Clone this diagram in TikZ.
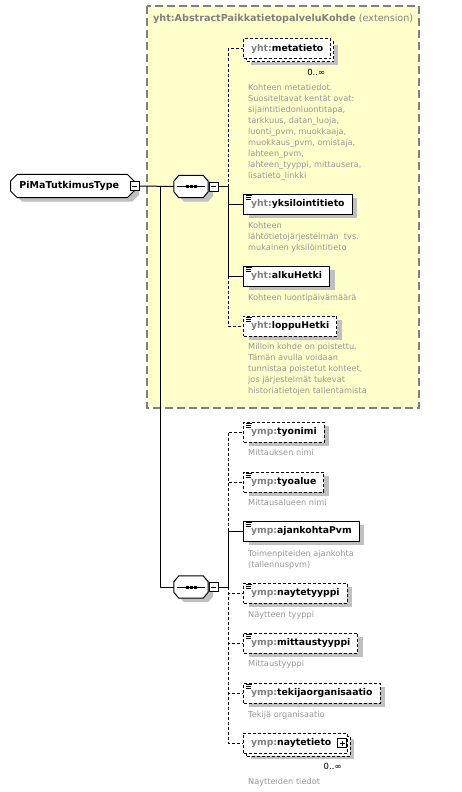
\documentclass[tikz,border=0pt]{standalone}
\usepackage{fontspec}
\setmainfont{DejaVu Sans}
\usetikzlibrary{shapes.misc}
\usetikzlibrary{shadows}
\usetikzlibrary{calc}
\definecolor{extyellow}{RGB}{255,255,204}
\definecolor{framegray}{RGB}{128,128,128}
\definecolor{prefixgray}{RGB}{128,128,128}
\definecolor{docgray}{RGB}{150,150,150}
\definecolor{shadowgray}{RGB}{192,192,192}
% sequence compositor drawn round an empty node
\newcommand{\seqsymbol}[1]{%
	\draw[line width=1pt, fill=white, boxshadow] ([xshift=5pt]#1.north west) -- ([xshift=-5pt]#1.north east) -- ([yshift=-6pt]#1.north east) -- ([yshift=6pt]#1.south east) -- ([xshift=-5pt]#1.south east) -- ([xshift=5pt]#1.south west) -- ([yshift=6pt]#1.south west) -- ([yshift=-6pt]#1.north west) -- cycle;
	\draw[line width=1pt] ([xshift=3pt]#1.west) -- ([xshift=-3pt]#1.east);
	\foreach \dx in {-4,0,4} \fill ([xshift=\dx pt]#1.center) +(-1.5pt,-1.5pt) rectangle +(1.5pt,1.5pt);
}

\begin{document}
\begin{tikzpicture}[x=1pt, y=-1pt,
	elembase/.style={draw, fill=white, anchor=west, minimum height=20pt, inner xsep=7.5pt, inner ysep=0pt, line width=1pt, font=\fontsize{9.3}{11}\bfseries\selectfont},
	boxshadow/.style={drop shadow={shadow xshift=5pt, shadow yshift=-4pt, fill=shadowgray, opacity=1}},
	elem/.style={elembase, boxshadow},
	optelem/.style={elem, dash pattern=on 3pt off 2pt},
	multielem/.style={elembase, dash pattern=on 3pt off 2pt, drop shadow={shadow xshift=7pt, shadow yshift=-6pt, fill=shadowgray, opacity=1}, copy shadow={shadow xshift=3pt, shadow yshift=-3pt, draw, fill=white, line width=1pt, dash pattern=on 3pt off 2pt}},
	simpleicon/.style={path picture={
		\draw[solid, line width=0.7pt] ([xshift=2.5pt, yshift=-1.2pt]path picture bounding box.north west) -- ++(6pt,0pt);
		\draw[solid, line width=0.7pt] ([xshift=2.5pt, yshift=-3.2pt]path picture bounding box.north west) -- ++(4.5pt,0pt);
		\draw[solid, line width=0.7pt] ([xshift=2.5pt, yshift=-5.2pt]path picture bounding box.north west) -- ++(4.5pt,0pt);
	}},
	typebox/.style={chamfered rectangle, chamfered rectangle xsep=3pt, draw, fill=white, anchor=west, minimum height=22pt, inner xsep=6pt, line width=1pt, font=\fontsize{9.5}{11}\bfseries\selectfont, boxshadow},
	seqbox/.style={rectangle, minimum width=34pt, minimum height=22pt, inner sep=0pt},
	btnminus/.style={draw, fill=white, minimum size=9pt, inner sep=0pt, line width=1pt, path picture={
		\draw[solid, line width=1pt] ([xshift=2pt]path picture bounding box.west) -- ([xshift=-2pt]path picture bounding box.east);
	}},
	btnplus/.style={draw, fill=white, minimum size=9pt, inner sep=0pt, line width=1pt, solid, path picture={
		\draw[solid, line width=1pt] ([xshift=2pt]path picture bounding box.west) -- ([xshift=-2pt]path picture bounding box.east);
		\draw[solid, line width=1pt] ([yshift=2pt]path picture bounding box.south) -- ([yshift=-2pt]path picture bounding box.north);
	}},
	doctext/.style={anchor=north west, align=left, inner sep=0pt, text=docgray, font=\fontsize{8.2}{11}\selectfont},
	occlabel/.style={anchor=east, inner sep=0pt, font=\fontsize{8.5}{10}\selectfont},
	conn/.style={line width=1pt},
	optconn/.style={conn, dash pattern=on 3pt off 2pt}
	]
	\useasboundingbox (0,0) rectangle (462,792);

	% extension frame
	\draw[fill=extyellow, draw=framegray, line width=1.2pt, dash pattern=on 8pt off 4pt] (147,6) rectangle (419,408);
	\node[anchor=west, inner sep=0pt, text=prefixgray, font=\fontsize{9.6}{11}\selectfont] (extlabel) at (153,19) {\textbf{yht:AbstractPaikkatietopalveluKohde} (extension)};

	% type and compositors
	\node[typebox] (pima) at (10,186) {PiMaTutkimusType\kern6pt};
	\node[btnminus] (pimabtn) at (pima.east) {};
	\node[seqbox] (seqa) at (191,186.5) {};
	\seqsymbol{seqa}
	\node[btnminus, anchor=west] (seqabtn) at ([xshift=0.5pt]seqa.east) {};
	\node[seqbox] (seqb) at (191,587) {};
	\seqsymbol{seqb}
	\node[btnminus, anchor=west] (seqbbtn) at ([xshift=0.5pt]seqb.east) {};

	\coordinate (trunk) at (160,186.5);
	\coordinate (busa) at (228,186.5);
	\coordinate (busb) at (228,587);

	% inherited elements
	\node[multielem] (metatieto) at (243,49) {\textcolor{prefixgray}{yht:}metatieto};
	\node[occlabel] (metatieto-occ) at ([xshift=-6pt, yshift=-13pt]metatieto.south east) {0..∞};
	\node[doctext] (metatieto-doc) at (248,84.5) {Kohteen metatiedot.\\Suositeltavat kentät ovat:\\sijaintitiedonluontitapa,\\tarkkuus, datan\_luoja,\\luonti\_pvm, muokkaaja,\\muokkaus\_pvm, omistaja,\\lahteen\_pvm,\\lahteen\_tyyppi, mittausera,\\lisatieto\_linkki};

	\node[elem, simpleicon] (yksilointitieto) at (243,204) {\textcolor{prefixgray}{yht:}yksilointitieto};
	\node[doctext] (yksilointitieto-doc) at (248,222.5) {Kohteen\\lähtötietojärjestelmän \ tvs.\\mukainen yksilöintitieto};

	\node[elem, simpleicon] (alkuHetki) at (243,276) {\textcolor{prefixgray}{yht:}alkuHetki};
	\node[doctext] (alkuHetki-doc) at (248,294.5) {Kohteen luontipäivämäärä};

	\node[optelem, simpleicon] (loppuHetki) at (243,326) {\textcolor{prefixgray}{yht:}loppuHetki};
	\node[doctext] (loppuHetki-doc) at (248,343.5) {Milloin kohde on poistettu.\\Tämän avulla voidaan\\tunnistaa poistetut kohteet,\\jos järjestelmät tukevat\\historiatietojen tallentamista};

	% own elements
	\node[optelem, simpleicon] (tyonimi) at (243,432) {\textcolor{prefixgray}{ymp:}tyonimi};
	\node[doctext] (tyonimi-doc) at (248,449.5) {Mittauksen nimi};

	\node[optelem, simpleicon] (tyoalue) at (243,482) {\textcolor{prefixgray}{ymp:}tyoalue};
	\node[doctext] (tyoalue-doc) at (248,499.5) {Mittausalueen nimi};

	\node[elem, simpleicon] (ajankohtaPvm) at (243,531) {\textcolor{prefixgray}{ymp:}ajankohtaPvm};
	\node[doctext] (ajankohtaPvm-doc) at (248,550.5) {Toimenpiteiden ajankohta\\(tallennuspvm)};

	\node[optelem, simpleicon] (naytetyyppi) at (243,593) {\textcolor{prefixgray}{ymp:}naytetyyppi};
	\node[doctext] (naytetyyppi-doc) at (248,611.5) {Näytteen tyyppi};

	\node[optelem, simpleicon] (mittaustyyppi) at (243,643) {\textcolor{prefixgray}{ymp:}mittaustyyppi};
	\node[doctext] (mittaustyyppi-doc) at (248,660.5) {Mittaustyyppi};

	\node[optelem, simpleicon] (tekijaorganisaatio) at (243,693) {\textcolor{prefixgray}{ymp:}tekijaorganisaatio};
	\node[doctext] (tekijaorganisaatio-doc) at (248,711.5) {Tekijä organisaatio};

	\node[multielem, inner xsep=6pt] (naytetieto) at (243,743) {\kern1.5pt\textcolor{prefixgray}{ymp:}naytetieto\kern10pt};
	\node[btnplus, anchor=east] (naytetietobtn) at ([xshift=-0.5pt]naytetieto.east) {};
	\node[occlabel] (naytetieto-occ) at ([xshift=-6pt, yshift=-13pt]naytetieto.south east) {0..∞};
	\node[doctext] (naytetieto-doc) at (248,778.5) {Naytteiden tiedot};

	% connectors
	\draw[conn] (pimabtn.east) -- (seqa.west);
	\draw[conn] (trunk) |- (seqb.west);
	\draw[conn] (seqabtn.east) -- (busa);
	\draw[conn] (seqbbtn.east) -- (busb);

		% sequence a
	\draw[optconn] (busa) |- (metatieto.west);
	\draw[conn] (busa) |- (yksilointitieto.west);
	\draw[conn] (busa) |- (alkuHetki.west);
	\draw[optconn] (alkuHetki.west -| busa) |- (loppuHetki.west);

		% sequence b
	\draw[conn] (busb) |- (ajankohtaPvm.west);
	\draw[optconn] (ajankohtaPvm.west -| busb) |- (tyoalue.west);
	\draw[optconn] (ajankohtaPvm.west -| busb) |- (tyonimi.west);
	\draw[optconn] (busb) |- (naytetyyppi.west);
	\draw[optconn] (busb) |- (mittaustyyppi.west);
	\draw[optconn] (busb) |- (tekijaorganisaatio.west);
	\draw[optconn] (busb) |- (naytetieto.west);

\end{tikzpicture}
\end{document}
